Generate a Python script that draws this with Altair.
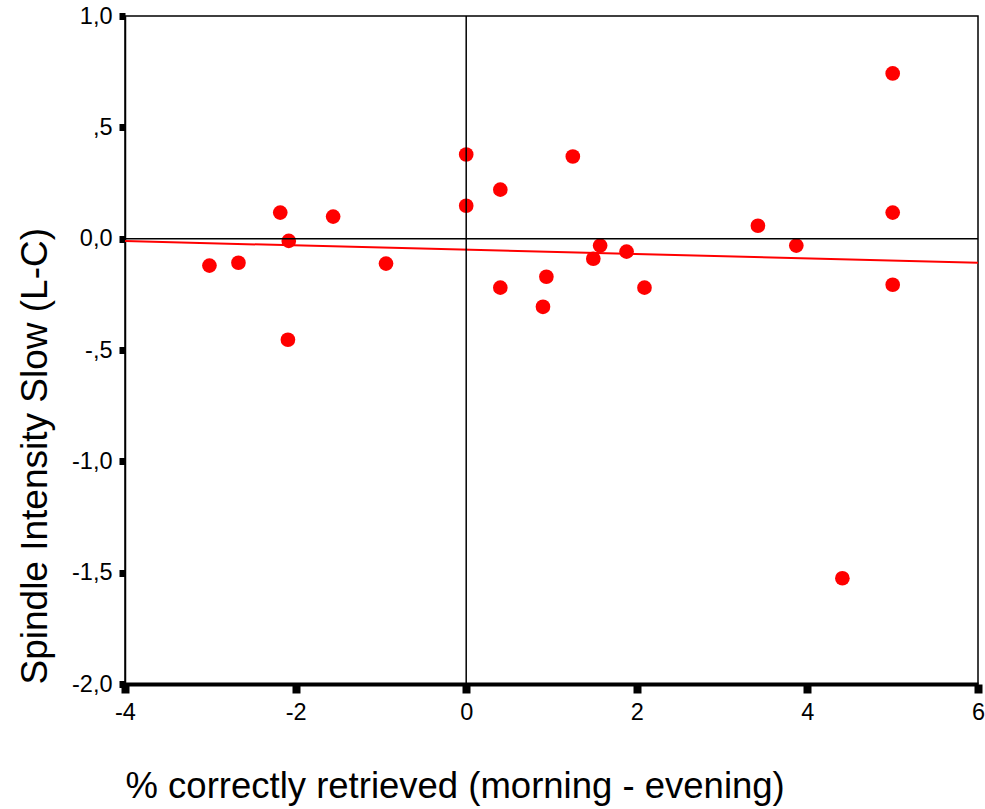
import altair as alt
import pandas as pd

# Data
x_vals = [-3.01, -2.67, -2.18, -2.08, -2.09, -1.56, -0.94, 0.0, 0.0, 0.40, 0.40, 0.90,
          0.94, 1.25, 1.49, 1.57, 1.88, 2.09, 3.42, 3.87, 5.0, 5.0, 5.0, 4.41]
y_vals = [-0.121, -0.108, 0.117, -0.010, -0.454, 0.099, -0.112, 0.378, 0.148, 0.220, -0.220, -0.306,
          -0.171, 0.369, -0.090, -0.031, -0.058, -0.220, 0.058, -0.031, 0.742, 0.117, -0.207, -1.525]

y_tick_values = [1.0, 0.5, 0.0, -0.5, -1.0, -1.5, -2.0]
y_tick_labels = ["1,0", ",5", "0,0", "-,5", "-1,0", "-1,5", "-2,0"]
x_tick_values = [-4, -2, 0, 2, 4, 6]
x_tick_labels = ["-4", "-2", "0", "2", "4", "6"]

x_title = "% correctly retrieved (morning - evening)"
y_title = "Spindle Intensity Slow (L-C)"

df = pd.DataFrame({"x": x_vals, "y": y_vals})

FONT = "Liberation Sans"
W, H = 853, 668


def make_expr(values, labels):
    return " : ".join(
        f"abs(datum.value - ({v})) < 0.001 ? '{l}'" for v, l in zip(values, labels)
    ) + " : ''"


xscale = alt.Scale(domain=[-4, 6], nice=False, zero=False)
yscale = alt.Scale(domain=[-2, 1], nice=False, zero=False)

xaxis = alt.Axis(
    values=x_tick_values, labelExpr=make_expr(x_tick_values, x_tick_labels),
    grid=False, domainColor="black", domainWidth=4,
    tickColor="black", tickSize=9, tickWidth=8, labelFont=FONT, labelFontSize=23.5,
    labelColor="black", labelPadding=7, labelFlush=False, labelAngle=0,
    title=x_title, titleFont=FONT, titleFontSize=36.5, titleFontWeight="normal",
    titleColor="black", titleAnchor="start", titleAlign="left", titleX=0, titleY=113,
    titleBaseline="alphabetic",
)
yaxis = alt.Axis(
    values=y_tick_values, labelExpr=make_expr(y_tick_values, y_tick_labels),
    grid=False, domainColor="black",
    domainWidth=1.5, tickColor="black", tickSize=6, tickWidth=7, labelFont=FONT,
    labelFontSize=23.5, labelColor="black", labelPadding=7, labelFlush=False,
    title=y_title, titleFont=FONT, titleFontSize=37, titleFontWeight="normal",
    titleColor="black", titleAngle=270, titleAlign="left", titleBaseline="alphabetic",
    titleX=-79, titleY=H, titleAnchor="start",
)

points = alt.Chart(df).mark_circle(size=215, color="#ff0000", opacity=1).encode(
    x=alt.X("x:Q", scale=xscale, axis=xaxis),
    y=alt.Y("y:Q", scale=yscale, axis=yaxis),
)

fit = alt.Chart(df).transform_regression("x", "y", extent=[-4, 6]).mark_line(
    color="#ff0000", strokeWidth=2
).encode(
    x=alt.X("x:Q", scale=xscale, axis=xaxis),
    y=alt.Y("y:Q", scale=yscale, axis=yaxis),
)

hline = alt.Chart(pd.DataFrame({"v": [0.0]})).mark_rule(color="black", strokeWidth=1.5).encode(
    y=alt.Y("v:Q", scale=yscale, axis=yaxis)
)
vline = alt.Chart(pd.DataFrame({"v": [0.0]})).mark_rule(color="black", strokeWidth=1.5).encode(
    x=alt.X("v:Q", scale=xscale, axis=xaxis)
)

chart = alt.layer(points, fit, hline, vline).properties(
    width=W, height=H,
    autosize=alt.AutoSizeParams(type="none"),
    padding={"left": 125, "top": 16, "right": 7, "bottom": 125},
    background="white",
).configure_view(stroke="black", strokeWidth=1.5)

chart.save("out.html", embed_options={"renderer": "svg", "actions": False})
